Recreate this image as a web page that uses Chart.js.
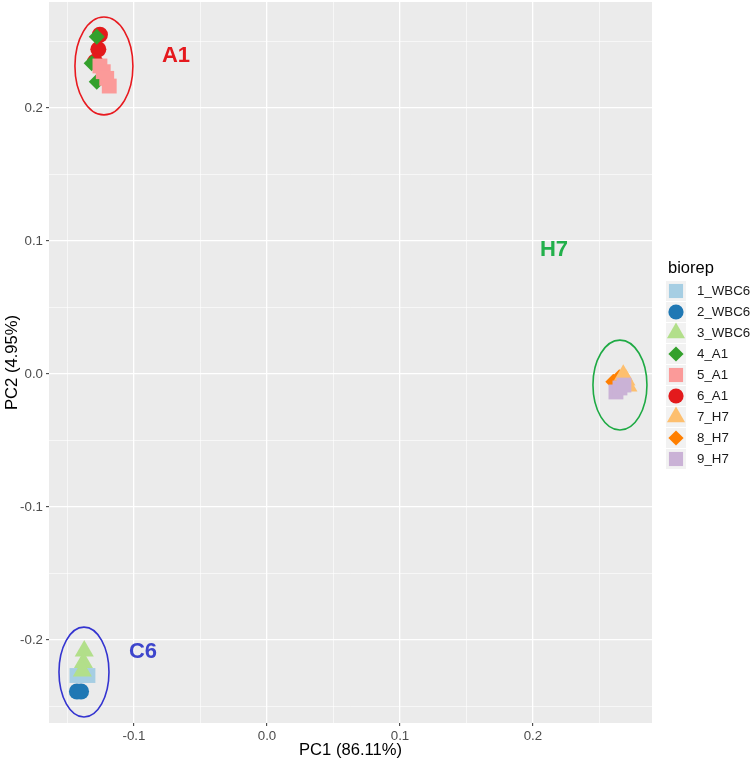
<!DOCTYPE html>
<html>
<head>
<meta charset="utf-8">
<title>PCA biorep</title>
<script src="https://cdn.jsdelivr.net/npm/chart.js@4.4.0/dist/chart.umd.min.js"></script>
<style>
  html, body { margin: 0; padding: 0; background: #ffffff; }
  #wrap { width: 756px; height: 762px; }
</style>
</head>
<body>
<div id="wrap"><canvas id="pcaChart" width="756" height="762"></canvas></div>
<script>
// biorep names, colours and shapes
const bioreps = ['1_WBC6', '2_WBC6', '3_WBC6', '4_A1', '5_A1', '6_A1', '7_H7', '8_H7', '9_H7'];
const biorepColors = ['#A6CEE3', '#1F78B4', '#B2DF8A', '#33A02C', '#FB9A99', '#E31A1C', '#FDBF6F', '#FF7F00', '#CAB2D6'];
const biorepShapes = ['rect', 'circle', 'triangle', 'rectRot', 'rect', 'circle', 'triangle', 'rectRot', 'rect'];
// draw order (lower = on top)
const biorepOrder = [2, 3, 1, 2, 1, 3, 2, 3, 1];

// PC scores, one list per biorep
const pc1Scores = [
  [-0.1429, -0.1383, -0.1346],
  [-0.1429, -0.1398],
  [-0.1374, -0.1380, -0.1388],
  [-0.1280, -0.1318, -0.1280],
  [-0.1256, -0.1231, -0.1205, -0.1186],
  [-0.1256, -0.1268, -0.1293],
  [0.2679, 0.2699, 0.2714],
  [0.2649, 0.2604],
  [0.2624, 0.2654, 0.2684]
];
const pc2Scores = [
  [-0.2267, -0.2263, -0.2267],
  [-0.2387, -0.2387],
  [-0.2083, -0.2170, -0.2233],
  [0.2536, 0.2336, 0.2198],
  [0.2316, 0.2273, 0.2223, 0.2165],
  [0.2551, 0.2441, 0.2348],
  [-0.0010, -0.0045, -0.0090],
  [-0.0025, -0.0058],
  [-0.0135, -0.0105, -0.0083]
];

// hand drawn group annotations
const groupNames = ['A1', 'C6', 'H7'];
const groupColors = ['#E8191F', '#3434D0', '#1EAA44'];
const groupLabelColors = ['#E5191E', '#3D45CC', '#22B04B'];
const ellipseCenterPC1 = [-0.1226, -0.1376, 0.2654];
const ellipseCenterPC2 = [0.2316, -0.2241, -0.0083];
const ellipseRadiusPC1 = [0.0218, 0.0188, 0.0203];
const ellipseRadiusPC2 = [0.0368, 0.0338, 0.0338];
const labelPC1 = [-0.0684, -0.0932, 0.2158];
const labelPC2 = [0.2390, -0.2090, 0.0932];

// axes
const xTicks = [-0.1, 0.0, 0.1, 0.2];
const yTicks = [-0.2, -0.1, 0.0, 0.1, 0.2];
const xLimits = [-0.1639, 0.2895];
const yLimits = [-0.2624, 0.2797];

const FONT = "'Liberation Sans', Arial, Helvetica, sans-serif";
const pointSizes = { rect: 10.5, circle: 8, triangle: 11, rectRot: 8 };

function withMinor(major, lo, hi) {
  const step = major[1] - major[0];
  const out = [];
  for (let v = major[0] - step / 2; v <= hi + 1e-9; v += step / 2) {
    if (v >= lo - 1e-9) out.push(Math.round(v * 1000) / 1000);
  }
  let v = major[0] - step;
  while (v >= lo) { out.unshift(Math.round(v * 1000) / 1000); v -= step / 2; }
  return out;
}
function isMajor(v) {
  return Math.abs(v * 10 - Math.round(v * 10)) < 1e-6;
}

const datasets = bioreps.map((name, i) => ({
  label: name,
  data: pc1Scores[i].map((x, j) => ({ x: x, y: pc2Scores[i][j] })),
  pointStyle: biorepShapes[i],
  pointRadius: pointSizes[biorepShapes[i]],
  pointHoverRadius: pointSizes[biorepShapes[i]],
  backgroundColor: biorepColors[i],
  borderColor: biorepColors[i],
  borderWidth: 0,
  order: biorepOrder[i]
}));

// grey panel
const panelBackground = {
  id: 'panelBackground',
  beforeDraw(chart) {
    const { ctx, chartArea: a } = chart;
    ctx.save();
    ctx.fillStyle = '#EBEBEB';
    ctx.fillRect(a.left, a.top, a.right - a.left, a.bottom - a.top);
    ctx.restore();
  }
};

// ellipses and A1 / C6 / H7 labels
const groupAnnotations = {
  id: 'groupAnnotations',
  afterDatasetsDraw(chart) {
    const { ctx } = chart;
    const xs = chart.scales.x, ys = chart.scales.y;
    ctx.save();
    groupNames.forEach((g, i) => {
      const cx = xs.getPixelForValue(ellipseCenterPC1[i]);
      const cy = ys.getPixelForValue(ellipseCenterPC2[i]);
      const rx = Math.abs(xs.getPixelForValue(ellipseCenterPC1[i] + ellipseRadiusPC1[i]) - cx);
      const ry = Math.abs(ys.getPixelForValue(ellipseCenterPC2[i] + ellipseRadiusPC2[i]) - cy);
      ctx.beginPath();
      ctx.ellipse(cx, cy, rx, ry, 0, 0, Math.PI * 2);
      ctx.strokeStyle = groupColors[i];
      ctx.lineWidth = 1.6;
      ctx.stroke();

      ctx.fillStyle = groupLabelColors[i];
      ctx.font = 'bold 22px ' + FONT;
      ctx.textAlign = 'center';
      ctx.textBaseline = 'middle';
      ctx.fillText(g, xs.getPixelForValue(labelPC1[i]), ys.getPixelForValue(labelPC2[i]));
    });
    ctx.restore();
  }
};

// ggplot style legend on the right
const biorepLegend = {
  id: 'biorepLegend',
  afterDraw(chart) {
    const { ctx } = chart;
    const left = 666, top0 = 291, step = 21, key = 20;
    ctx.save();
    ctx.fillStyle = '#000000';
    ctx.font = '16.5px ' + FONT;
    ctx.textAlign = 'left';
    ctx.textBaseline = 'middle';
    ctx.fillText('biorep', 668, 268);
    bioreps.forEach((name, i) => {
      const cy = top0 + i * step;
      ctx.fillStyle = '#F2F2F2';
      ctx.fillRect(left, cy - key / 2, key, key);
      ctx.fillStyle = biorepColors[i];
      ctx.strokeStyle = biorepColors[i];
      ctx.lineWidth = 0;
      Chart.helpers.drawPoint(ctx, {
        pointStyle: biorepShapes[i],
        radius: pointSizes[biorepShapes[i]] * 0.95,
        rotation: 0,
        borderWidth: 0
      }, left + key / 2, cy);
      ctx.fillStyle = '#1A1A1A';
      ctx.font = '13.3px ' + FONT;
      ctx.fillText(name, 697, cy + 0.5);
    });
    ctx.restore();
  }
};

const tickFont = { family: FONT, size: 13.3 };
const minorTickFont = { family: FONT, size: 1 };
const titleFont = { family: FONT, size: 16.6 };

new Chart(document.getElementById('pcaChart'), {
  type: 'scatter',
  data: { datasets: datasets },
  plugins: [panelBackground, groupAnnotations, biorepLegend],
  options: {
    responsive: false,
    animation: false,
    devicePixelRatio: 1,
    layout: { autoPadding: false, padding: { top: 2, right: 104, left: 0, bottom: 0 } },
    plugins: {
      legend: { display: false },
      tooltip: { enabled: false }
    },
    scales: {
      x: {
        type: 'linear',
        min: xLimits[0],
        max: xLimits[1],
        afterBuildTicks(scale) {
          scale.ticks = withMinor(xTicks, xLimits[0], xLimits[1]).map(v => ({ value: v }));
        },
        afterFit(scale) {
          scale.height = 39;
          scale.paddingLeft = 0;
          scale.paddingRight = 0;
        },
        border: { display: false },
        grid: {
          color: '#FFFFFF',
          lineWidth: c => (c.tick && isMajor(c.tick.value) ? 1.3 : 0.6),
          tickColor: c => (c.tick && isMajor(c.tick.value) ? '#333333' : 'rgba(0,0,0,0)'),
          tickLength: 3,
          tickWidth: 1
        },
        ticks: {
          autoSkip: false,
          maxRotation: 0,
          padding: 2,
          color: '#4D4D4D',
          font: c => (c.tick && isMajor(c.tick.value) ? tickFont : minorTickFont),
          callback: v => (isMajor(v) ? v.toFixed(1) : '')
        },
        title: {
          display: true,
          text: 'PC1 (86.11%)',
          color: '#000000',
          font: titleFont,
          padding: { top: 0, bottom: 2 }
        }
      },
      y: {
        type: 'linear',
        min: yLimits[0],
        max: yLimits[1],
        afterBuildTicks(scale) {
          scale.ticks = withMinor(yTicks, yLimits[0], yLimits[1]).map(v => ({ value: v }));
        },
        afterFit(scale) {
          scale.width = 49;
          scale.paddingTop = 0;
          scale.paddingBottom = 0;
        },
        border: { display: false },
        grid: {
          color: '#FFFFFF',
          lineWidth: c => (c.tick && isMajor(c.tick.value) ? 1.3 : 0.6),
          tickColor: c => (c.tick && isMajor(c.tick.value) ? '#333333' : 'rgba(0,0,0,0)'),
          tickLength: 3,
          tickWidth: 1
        },
        ticks: {
          autoSkip: false,
          padding: 3,
          color: '#4D4D4D',
          font: c => (c.tick && isMajor(c.tick.value) ? tickFont : minorTickFont),
          callback: v => (isMajor(v) ? v.toFixed(1) : '')
        },
        title: {
          display: true,
          text: 'PC2 (4.95%)',
          color: '#000000',
          font: titleFont,
          padding: { top: 2, bottom: 0 }
        }
      }
    }
  }
});
</script>
</body>
</html>
